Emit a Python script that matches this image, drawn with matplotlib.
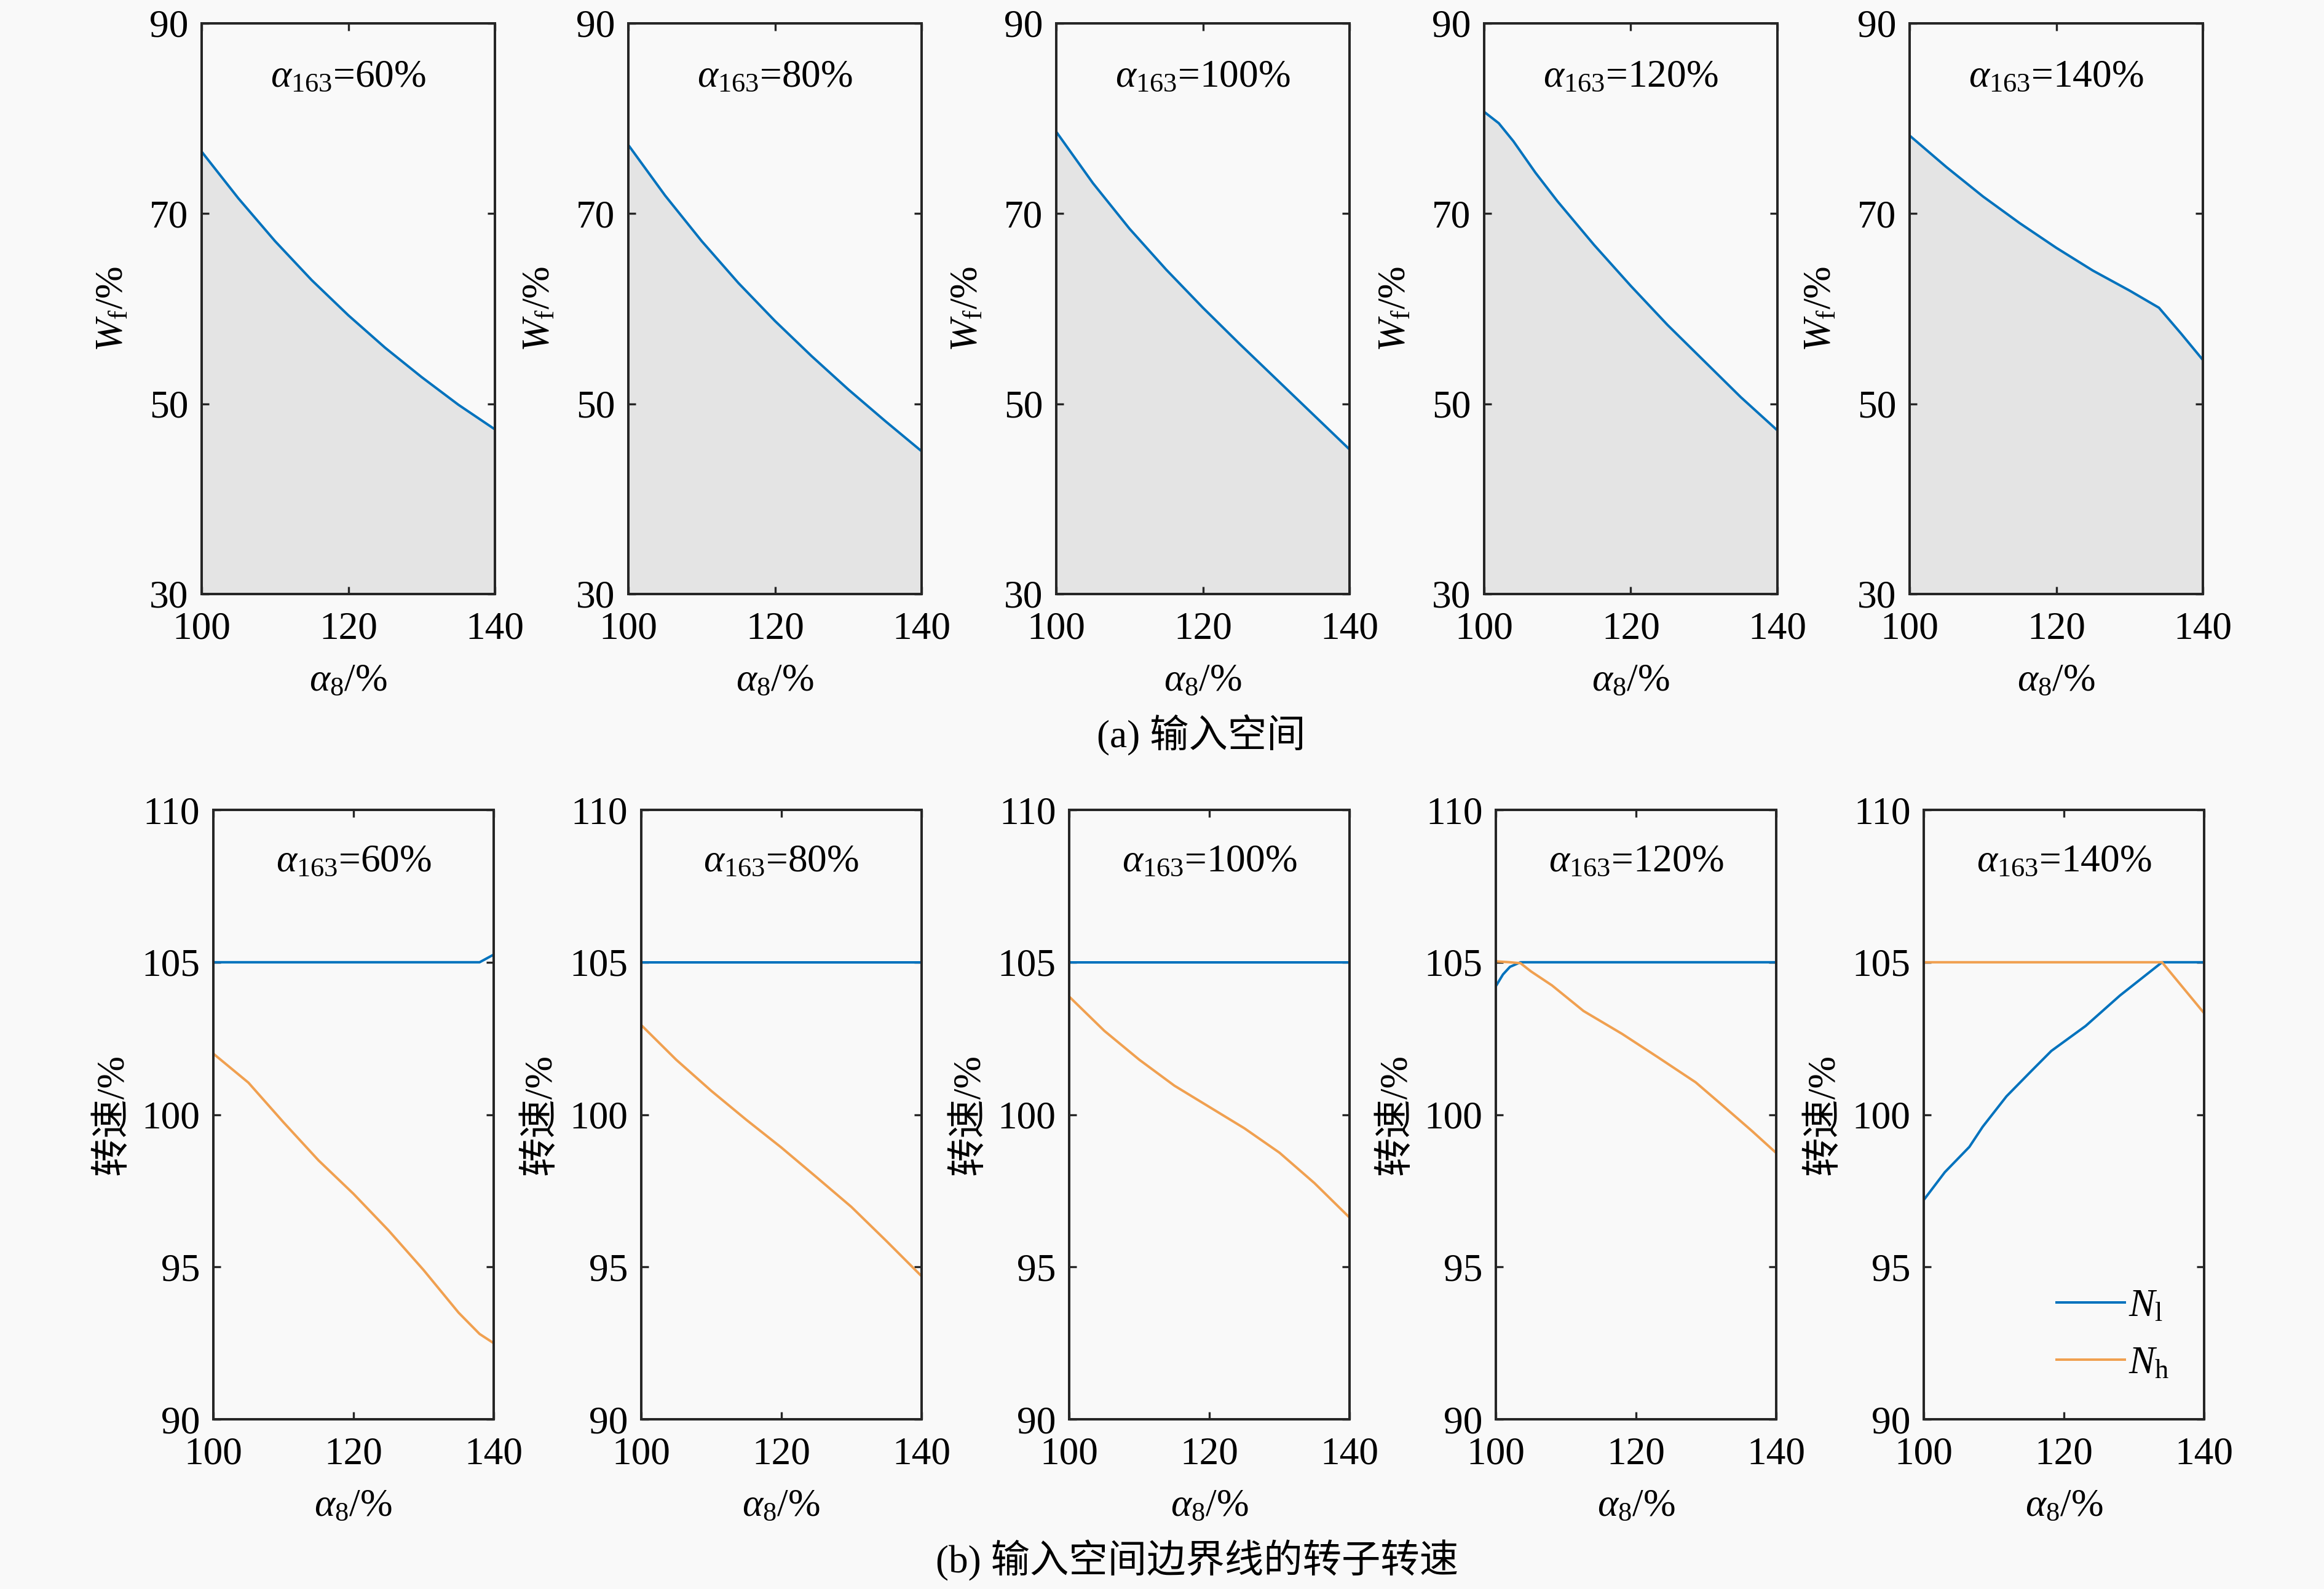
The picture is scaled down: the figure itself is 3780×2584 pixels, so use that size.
import numpy as np
import matplotlib.pyplot as plt

# ---- data ----
alpha163 = ['60%', '80%', '100%', '120%', '140%']

# (a) input space boundary Wf vs alpha8
wf_x = [
    [100, 105, 110, 115, 120, 125, 130, 135, 140],
    [100, 105, 110, 115, 120, 125, 130, 135, 140],
    [100, 105, 110, 115, 120, 125, 130, 135, 140],
    [100, 102, 104, 107, 110, 115, 120, 125, 130, 135, 140],
    [100, 105, 110, 115, 120, 125, 130, 134, 137, 140],
]
wf_y = [
    [76.5, 71.6, 67.1, 63.0, 59.3, 55.9, 52.8, 49.9, 47.3],
    [77.2, 71.9, 67.1, 62.7, 58.7, 55.0, 51.5, 48.2, 45.0],
    [78.6, 73.2, 68.4, 64.1, 60.1, 56.3, 52.6, 48.9, 45.2],
    [80.7, 79.5, 77.6, 74.3, 71.3, 66.7, 62.4, 58.3, 54.5, 50.7, 47.2],
    [78.2, 74.9, 71.8, 69.0, 66.4, 64.0, 61.9, 60.1, 57.4, 54.6],
]

# (b) rotor speeds on the boundary
nl_x = [
    [100, 138, 140],
    [100, 140],
    [100, 140],
    [100, 101, 102, 103.5, 140],
    [100, 103, 106.5, 108.4, 111.8, 115.3, 118.2, 123.1, 128, 134, 140],
]
nl_y = [
    [105, 105, 105.25],
    [105, 105],
    [105, 105],
    [104.22, 104.6, 104.85, 105, 105],
    [97.2, 98.11, 98.94, 99.6, 100.6, 101.42, 102.09, 102.91, 103.91, 105, 105],
]
nh_x = [
    [100, 105, 110, 115, 120, 125, 130, 135, 138, 140],
    [100, 105, 110, 115, 120, 125, 130, 135, 140],
    [100, 105, 110, 115, 120, 125, 130, 135, 140],
    [100, 102, 103.5, 105, 108, 112.5, 118, 123, 128.5, 132.5, 136.5, 140],
    [100, 134, 140],
]
nh_y = [
    [102.0, 101.05, 99.75, 98.5, 97.4, 96.2, 94.9, 93.5, 92.8, 92.5],
    [102.94, 101.8, 100.78, 99.83, 98.92, 97.95, 96.97, 95.85, 94.7],
    [103.87, 102.75, 101.8, 100.95, 100.25, 99.55, 98.75, 97.75, 96.62],
    [105.03, 105.0, 104.97, 104.7, 104.24, 103.4, 102.65, 101.9, 101.06, 100.27, 99.47, 98.74],
    [105, 105, 103.33],
]

plt.rcParams['font.family'] = ['Liberation Serif', 'Noto Sans CJK SC']
plt.rcParams['mathtext.fontset'] = 'custom'
plt.rcParams['mathtext.rm'] = 'Liberation Serif'
plt.rcParams['mathtext.it'] = 'Liberation Serif:italic'
plt.rcParams['font.size'] = 19
plt.rcParams['axes.unicode_minus'] = False

bg = '#f9f9f9'
blue = '#0072BD'
orange = '#F0A050'
edge = '#262626'

fig = plt.figure(figsize=(15.75, 2584 / 240), dpi=240, facecolor=bg)

top_left = [0.0868, 0.2704, 0.4545, 0.6386, 0.8217]
bot_left = [0.0918, 0.2759, 0.4601, 0.6437, 0.8278]


def style(ax, yticks, ylim):
    ax.set_facecolor(bg)
    ax.set_xlim(100, 140)
    ax.set_ylim(*ylim)
    ax.set_xticks([100, 120, 140])
    ax.set_yticks(yticks)
    ax.tick_params(direction='in', top=True, right=True, length=3.5,
                   width=1.0, color=edge, labelsize=19)
    ax.tick_params(axis='x', pad=8.5)
    ax.tick_params(axis='y', pad=6.5)
    for s in ax.spines.values():
        s.set_linewidth(1.2)
        s.set_color(edge)
    ax.set_xlabel(r'$\alpha_8$/%', labelpad=8)


for i in range(5):
    ax = fig.add_axes([top_left[i], 0.6262, 0.1262, 0.3591])
    x = np.array(wf_x[i])
    y = np.array(wf_y[i])
    ax.fill_between(x, 30, y, color='#e4e4e4', lw=0)
    ax.plot(x, y, color=blue, lw=1.2)
    style(ax, [30, 50, 70, 90], (30, 90))
    ax.set_ylabel(r'$W_\mathrm{f}$/%', labelpad=9)
    ax.text(0.5, 0.905, r'$\alpha_{163}$=' + alpha163[i], transform=ax.transAxes,
            ha='center', va='center')

for i in range(5):
    ax = fig.add_axes([bot_left[i], 0.1068, 0.1206, 0.3835])
    ax.plot(nl_x[i], nl_y[i], color=blue, lw=1.2, label=r'$N_\mathrm{l}$')
    ax.plot(nh_x[i], nh_y[i], color=orange, lw=1.2, label=r'$N_\mathrm{h}$')
    style(ax, [90, 95, 100, 105, 110], (90, 110))
    ax.set_ylabel('转速/%', labelpad=5)
    ax.text(0.5, 0.914, r'$\alpha_{163}$=' + alpha163[i], transform=ax.transAxes,
            ha='center', va='center')
    if i == 4:
        ax.legend(loc='center left', bbox_to_anchor=(0.474, 0.138), frameon=False,
                  handlelength=1.75, handletextpad=0.1, labelspacing=0.55,
                  borderpad=0, borderaxespad=0, fontsize=19)

fig.text(0.517, 0.537, '(a) 输入空间', ha='center', va='center', fontsize=19)
fig.text(0.515, 0.018, '(b) 输入空间边界线的转子转速', ha='center', va='center',
         fontsize=19)

fig.savefig('out.png', dpi=240, facecolor=bg)
